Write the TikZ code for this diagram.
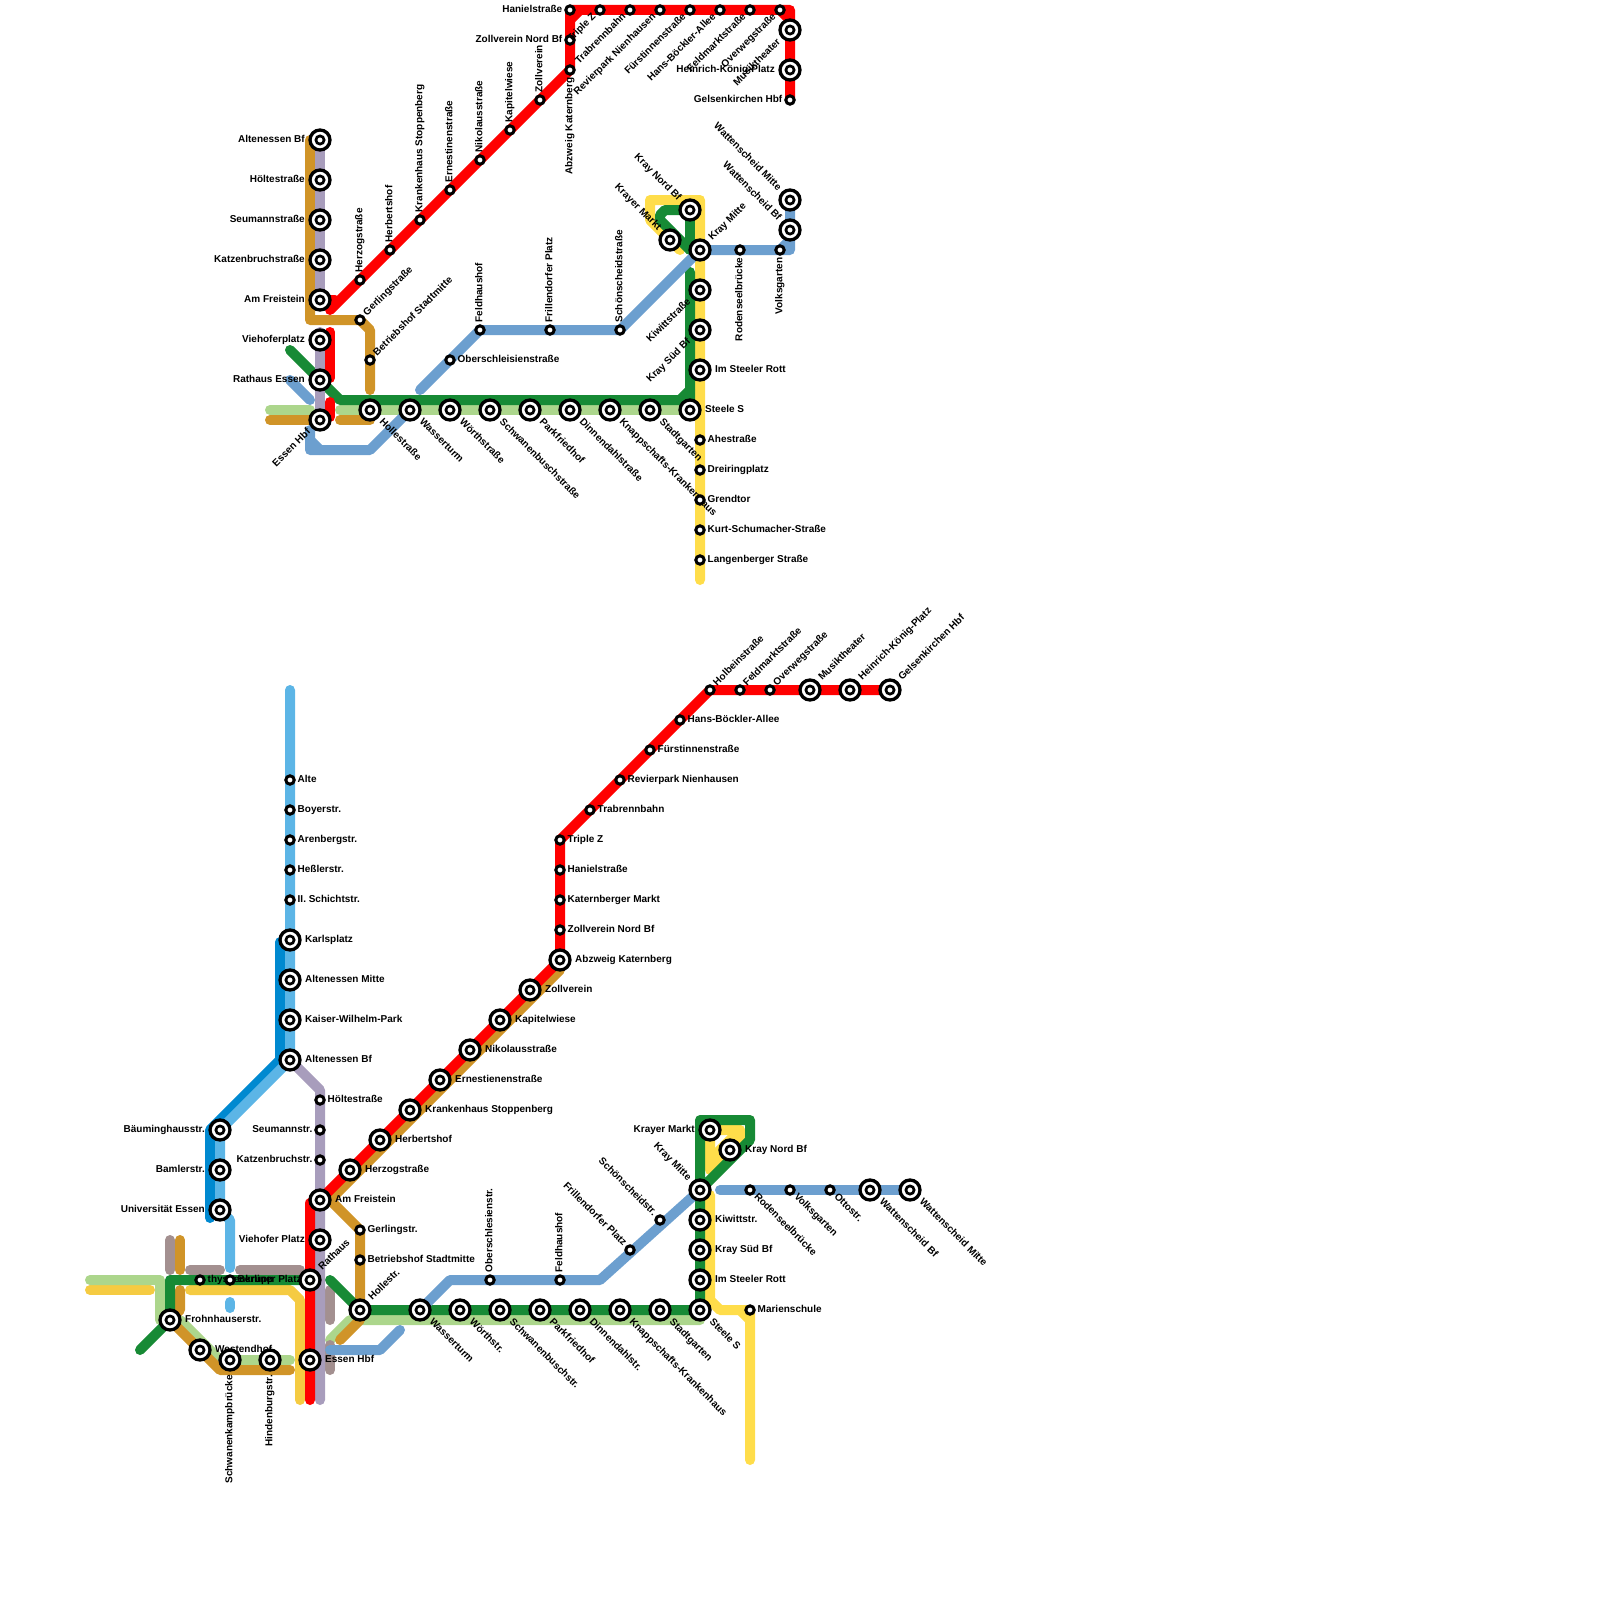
\documentclass[tikz,border=0pt]{standalone}
\usepackage{fontspec}
\setmainfont{Liberation Sans}
\usetikzlibrary{backgrounds}
\definecolor{linered}{HTML}{FF0000}
\definecolor{linegreen}{HTML}{178A35}
\definecolor{linelime}{HTML}{ACD68C}
\definecolor{lineochre}{HTML}{D09428}
\definecolor{linelilac}{HTML}{A89DBC}
\definecolor{lineblue}{HTML}{6C9FCF}
\definecolor{linesky}{HTML}{5CB5E6}
\definecolor{linenavy}{HTML}{0089D0}
\definecolor{linetaupe}{HTML}{A39090}
\definecolor{lineyellow}{HTML}{FFDD4A}
\definecolor{linegold}{HTML}{F5CB42}

\begin{document}
\begin{tikzpicture}[
  x=1pt, y=-1pt,
  bigst/.style={draw, circle, fill=white, inner sep=0pt, outer sep=0pt, minimum size=20, line width=3.3,
    path picture={\draw[line width=2.7] (path picture bounding box.center) circle (4.1);}},
  smallst/.style={draw, circle, fill=white, inner sep=0pt, outer sep=0pt, minimum size=8.4, line width=3},
  lab/.style={inner sep=0pt, text height=4.8, text depth=0, font=\fontsize{10}{12}\selectfont\bfseries},
  labr/.style={lab, anchor=west, xshift=#1}, labr/.default=7.5,
  labl/.style={lab, anchor=east, xshift=-#1}, labl/.default=7.5,
  labn/.style={lab, rotate=90, anchor=west, xshift=#1}, labn/.default=7.5,
  labs/.style={lab, rotate=90, anchor=east, xshift=-#1}, labs/.default=7.5,
  labne/.style={lab, rotate=45, anchor=west, xshift=#1}, labne/.default=7.5,
  labse/.style={lab, rotate=-45, anchor=west, xshift=#1}, labse/.default=7.5,
  labsw/.style={lab, rotate=45, anchor=east, xshift=-#1}, labsw/.default=7.5,
  labnw/.style={lab, rotate=-45, anchor=east, xshift=-#1}, labnw/.default=7.5,
  metro/.style={line width=10, line cap=round, line join=round}]
  \useasboundingbox (0,0) rectangle (1600,1600);

  \node[bigst] (taltbf) at (320,140) {};   \node[labl=15] (taltbf-l) at (taltbf) {Altenessen Bf};
  \node[bigst] (thoelte) at (320,180) {};  \node[labl=15] (thoelte-l) at (thoelte) {Höltestraße};
  \node[bigst] (tseum) at (320,220) {};    \node[labl=15] (tseum-l) at (tseum) {Seumannstraße};
  \node[bigst] (tkatz) at (320,260) {};    \node[labl=15] (tkatz-l) at (tkatz) {Katzenbruchstraße};
  \node[bigst] (tfrei) at (320,300) {};    \node[labl=15] (tfrei-l) at (tfrei) {Am Freistein};
  \node[bigst] (tvieh) at (320,340) {};    \node[labl=15] (tvieh-l) at (tvieh) {Viehoferplatz};
  \node[bigst] (trat) at (320,380) {};     \node[labl=15] (trat-l) at (trat) {Rathaus Essen};
  \node[bigst] (thbf) at (320,420) {};     \node[labsw=15] (thbf-l) at (thbf) {Essen Hbf};
  \node[bigst] (tholle) at (370,410) {};   \node[labse=15] (tholle-l) at (tholle) {Hollestraße};
  \node[bigst] (twasser) at (410,410) {};  \node[labse=15] (twasser-l) at (twasser) {Wasserturm};
  \node[bigst] (twoerth) at (450,410) {};  \node[labse=15] (twoerth-l) at (twoerth) {Wörthstraße};
  \node[bigst] (tschwan) at (490,410) {};  \node[labse=15] (tschwan-l) at (tschwan) {Schwanenbuschstraße};
  \node[bigst] (tpark) at (530,410) {};    \node[labse=15] (tpark-l) at (tpark) {Parkfriedhof};
  \node[bigst] (tdinn) at (570,410) {};    \node[labse=15] (tdinn-l) at (tdinn) {Dinnendahlstraße};
  \node[bigst] (tknapp) at (610,410) {};   \node[labse=15] (tknapp-l) at (tknapp) {Knappschafts-Krankenhaus};
  \node[bigst] (tstadt) at (650,410) {};   \node[labse=15] (tstadt-l) at (tstadt) {Stadtgarten};
  \node[bigst] (tsteele) at (690,410) {};  \node[labr=15] (tsteele-l) at (tsteele) {Steele S};
  \node[bigst] (tmitte) at (700,250) {};   \node[labne=15] (tmitte-l) at (tmitte) {Kray Mitte};
  \node[bigst] (tkiwi) at (700,290) {};    \node[labsw=15] (tkiwi-l) at (tkiwi) {Kiwittstraße};
  \node[bigst] (tsued) at (700,330) {};    \node[labsw=15] (tsued-l) at (tsued) {Kray Süd Bf};
  \node[bigst] (trott) at (700,370) {};    \node[labr=15] (trott-l) at (trott) {Im Steeler Rott};
  \node[bigst] (tnord) at (690,210) {};    \node[labnw=15] (tnord-l) at (tnord) {Kray Nord Bf};
  \node[bigst] (tmarkt) at (670,240) {};   \node[labnw=15] (tmarkt-l) at (tmarkt) {Krayer Markt};
  \node[bigst] (twmitte) at (790,200) {};  \node[labnw=15] (twmitte-l) at (twmitte) {Wattenscheid Mitte};
  \node[bigst] (twbf) at (790,230) {};     \node[labnw=15] (twbf-l) at (twbf) {Wattenscheid Bf};
  \node[bigst] (tmusik) at (790,30) {};    \node[labsw=15] (tmusik-l) at (tmusik) {Musiktheater};
  \node[bigst] (theinr) at (790,70) {};    \node[labl=15] (theinr-l) at (theinr) {Heinrich-König-Platz};

  \node[smallst] (tgelsen) at (790,100) {}; \node[labl] (tgelsen-l) at (tgelsen) {Gelsenkirchen Hbf};
  \node[smallst] (therz) at (360,280) {};   \node[labn] (therz-l) at (therz) {Herzogstraße};
  \node[smallst] (therb) at (390,250) {};   \node[labn] (therb-l) at (therb) {Herbertshof};
  \node[smallst] (tkrank) at (420,220) {};  \node[labn] (tkrank-l) at (tkrank) {Krankenhaus Stoppenberg};
  \node[smallst] (terne) at (450,190) {};   \node[labn] (terne-l) at (terne) {Ernestinenstraße};
  \node[smallst] (tniko) at (480,160) {};   \node[labn] (tniko-l) at (tniko) {Nikolausstraße};
  \node[smallst] (tkapi) at (510,130) {};   \node[labn] (tkapi-l) at (tkapi) {Kapitelwiese};
  \node[smallst] (tzoll) at (540,100) {};   \node[labn] (tzoll-l) at (tzoll) {Zollverein};
  \node[smallst] (tabzw) at (570,70) {};    \node[labs] (tabzw-l) at (tabzw) {Abzweig Katernberg};
  \node[smallst] (tznord) at (570,40) {};   \node[labl] (tznord-l) at (tznord) {Zollverein Nord Bf};
  \node[smallst] (thani) at (570,10) {};    \node[labl] (thani-l) at (thani) {Hanielstraße};
  \node[smallst] (ttrip) at (600,10) {};    \node[labsw] (ttrip-l) at (ttrip) {Triple Z};
  \node[smallst] (ttrab) at (630,10) {};    \node[labsw] (ttrab-l) at (ttrab) {Trabrennbahn};
  \node[smallst] (trevi) at (660,10) {};    \node[labsw] (trevi-l) at (trevi) {Revierpark Nienhausen};
  \node[smallst] (tfuer) at (690,10) {};    \node[labsw] (tfuer-l) at (tfuer) {Fürstinnenstraße};
  \node[smallst] (thans) at (720,10) {};    \node[labsw] (thans-l) at (thans) {Hans-Böckler-Allee};
  \node[smallst] (tfeld) at (750,10) {};    \node[labsw] (tfeld-l) at (tfeld) {Feldmarktstraße};
  \node[smallst] (tover) at (780,10) {};    \node[labsw] (tover-l) at (tover) {Overwegstraße};
  \node[smallst] (tgerl) at (360,320) {};   \node[labne] (tgerl-l) at (tgerl) {Gerlingstraße};
  \node[smallst] (tbetr) at (370,360) {};   \node[labne] (tbetr-l) at (tbetr) {Betriebshof Stadtmitte};
  \node[smallst] (tober) at (450,360) {};   \node[labr] (tober-l) at (tober) {Oberschleisienstraße};
  \node[smallst] (tfhof) at (480,330) {};   \node[labn] (tfhof-l) at (tfhof) {Feldhaushof};
  \node[smallst] (tfril) at (550,330) {};   \node[labn] (tfril-l) at (tfril) {Frillendorfer Platz};
  \node[smallst] (tscho) at (620,330) {};   \node[labn] (tscho-l) at (tscho) {Schönscheidstraße};
  \node[smallst] (trode) at (740,250) {};   \node[labs] (trode-l) at (trode) {Rodenseelbrücke};
  \node[smallst] (tvolk) at (780,250) {};   \node[labs] (tvolk-l) at (tvolk) {Volksgarten};
  \node[smallst] (tahe) at (700,440) {};    \node[labr] (tahe-l) at (tahe) {Ahestraße};
  \node[smallst] (tdrei) at (700,470) {};   \node[labr] (tdrei-l) at (tdrei) {Dreiringplatz};
  \node[smallst] (tgren) at (700,500) {};   \node[labr] (tgren-l) at (tgren) {Grendtor};
  \node[smallst] (tkurt) at (700,530) {};   \node[labr] (tkurt-l) at (tkurt) {Kurt-Schumacher-Straße};
  \node[smallst] (tlang) at (700,560) {};   \node[labr] (tlang-l) at (tlang) {Langenberger Straße};

  \node[smallst] (bholb) at (710,690) {};   \node[labne] (bholb-l) at (bholb) {Holbeinstraße};
  \node[smallst] (bfeld) at (740,690) {};   \node[labne] (bfeld-l) at (bfeld) {Feldmarktstraße};
  \node[smallst] (bover) at (770,690) {};   \node[labne] (bover-l) at (bover) {Overwegstraße};
  \node[bigst] (bmusik) at (810,690) {};    \node[labne=15] (bmusik-l) at (bmusik) {Musiktheater};
  \node[bigst] (bheinr) at (850,690) {};    \node[labne=15] (bheinr-l) at (bheinr) {Heinrich-König-Platz};
  \node[bigst] (bgelsen) at (890,690) {};   \node[labne=15] (bgelsen-l) at (bgelsen) {Gelsenkirchen Hbf};
  \node[smallst] (bhans) at (680,720) {};   \node[labr] (bhans-l) at (bhans) {Hans-Böckler-Allee};
  \node[smallst] (bfuer) at (650,750) {};   \node[labr] (bfuer-l) at (bfuer) {Fürstinnenstraße};
  \node[smallst] (brevi) at (620,780) {};   \node[labr] (brevi-l) at (brevi) {Revierpark Nienhausen};
  \node[smallst] (btrab) at (590,810) {};   \node[labr] (btrab-l) at (btrab) {Trabrennbahn};
  \node[smallst] (btrip) at (560,840) {};   \node[labr] (btrip-l) at (btrip) {Triple Z};
  \node[smallst] (bhani) at (560,870) {};   \node[labr] (bhani-l) at (bhani) {Hanielstraße};
  \node[smallst] (bkate) at (560,900) {};   \node[labr] (bkate-l) at (bkate) {Katernberger Markt};
  \node[smallst] (bznord) at (560,930) {};  \node[labr] (bznord-l) at (bznord) {Zollverein Nord Bf};
  \node[bigst] (babzw) at (560,960) {};     \node[labr=15] (babzw-l) at (babzw) {Abzweig Katernberg};
  \node[bigst] (bzoll) at (530,990) {};     \node[labr=15] (bzoll-l) at (bzoll) {Zollverein};
  \node[bigst] (bkapi) at (500,1020) {};    \node[labr=15] (bkapi-l) at (bkapi) {Kapitelwiese};
  \node[bigst] (bniko) at (470,1050) {};    \node[labr=15] (bniko-l) at (bniko) {Nikolausstraße};
  \node[bigst] (berne) at (440,1080) {};    \node[labr=15] (berne-l) at (berne) {Ernestienenstraße};
  \node[bigst] (bkrank) at (410,1110) {};   \node[labr=15] (bkrank-l) at (bkrank) {Krankenhaus Stoppenberg};
  \node[bigst] (bherb) at (380,1140) {};    \node[labr=15] (bherb-l) at (bherb) {Herbertshof};
  \node[bigst] (bherz) at (350,1170) {};    \node[labr=15] (bherz-l) at (bherz) {Herzogstraße};
  \node[bigst] (bfrei) at (320,1200) {};    \node[labr=15] (bfrei-l) at (bfrei) {Am Freistein};

  \node[smallst] (balte) at (290,780) {};   \node[labr] (balte-l) at (balte) {Alte};
  \node[smallst] (bboye) at (290,810) {};   \node[labr] (bboye-l) at (bboye) {Boyerstr.};
  \node[smallst] (baren) at (290,840) {};   \node[labr] (baren-l) at (baren) {Arenbergstr.};
  \node[smallst] (bhess) at (290,870) {};   \node[labr] (bhess-l) at (bhess) {Heßlerstr.};
  \node[smallst] (bschi) at (290,900) {};   \node[labr] (bschi-l) at (bschi) {II. Schichtstr.};
  \node[bigst] (bkarl) at (290,940) {};     \node[labr=15] (bkarl-l) at (bkarl) {Karlsplatz};
  \node[bigst] (bamit) at (290,980) {};     \node[labr=15] (bamit-l) at (bamit) {Altenessen Mitte};
  \node[bigst] (bkais) at (290,1020) {};    \node[labr=15] (bkais-l) at (bkais) {Kaiser-Wilhelm-Park};
  \node[bigst] (baltbf) at (290,1060) {};   \node[labr=15] (baltbf-l) at (baltbf) {Altenessen Bf};
  \node[smallst] (bhoel) at (320,1100) {};  \node[labr] (bhoel-l) at (bhoel) {Höltestraße};
  \node[smallst] (bseum) at (320,1130) {};  \node[labl] (bseum-l) at (bseum) {Seumannstr.};
  \node[smallst] (bkatz) at (320,1160) {};  \node[labl] (bkatz-l) at (bkatz) {Katzenbruchstr.};
  \node[bigst] (bvieh) at (320,1240) {};    \node[labl=15] (bvieh-l) at (bvieh) {Viehofer Platz};
  \node[bigst] (brat) at (310,1280) {};     \node[labne=15] (brat-l) at (brat) {Rathaus};
  \node[bigst] (bhbf) at (310,1360) {};     \node[labr=15] (bhbf-l) at (bhbf) {Essen Hbf};
  \node[bigst] (bbaum) at (220,1130) {};    \node[labl=15] (bbaum-l) at (bbaum) {Bäuminghausstr.};
  \node[bigst] (bbaml) at (220,1170) {};    \node[labl=15] (bbaml-l) at (bbaml) {Bamlerstr.};
  \node[bigst] (buni) at (220,1210) {};     \node[labl=15] (buni-l) at (buni) {Universität Essen};
  \node[smallst] (bthys) at (200,1280) {};  \node[labr] (bthys-l) at (bthys) {thyssenkrupp};
  \node[smallst] (bberl) at (230,1280) {};  \node[labr] (bberl-l) at (bberl) {Berliner Platz};
  \node[bigst] (bfroh) at (170,1320) {};    \node[labr=15] (bfroh-l) at (bfroh) {Frohnhauserstr.};
  \node[bigst] (bwest) at (200,1350) {};    \node[labr=15] (bwest-l) at (bwest) {Westendhof};
  \node[bigst] (bschk) at (230,1360) {};    \node[labs=15] (bschk-l) at (bschk) {Schwanenkampbrücke};
  \node[bigst] (bhind) at (270,1360) {};    \node[labs=15] (bhind-l) at (bhind) {Hindenburgstr.};

  \node[smallst] (bgerl) at (360,1230) {};  \node[labr] (bgerl-l) at (bgerl) {Gerlingstr.};
  \node[smallst] (bbetr) at (360,1260) {};  \node[labr] (bbetr-l) at (bbetr) {Betriebshof Stadtmitte};
  \node[bigst] (bholl) at (360,1310) {};    \node[labne=15] (bholl-l) at (bholl) {Hollestr.};
  \node[bigst] (bwass) at (420,1310) {};    \node[labse=15] (bwass-l) at (bwass) {Wasserturm};
  \node[bigst] (bwoer) at (460,1310) {};    \node[labse=15] (bwoer-l) at (bwoer) {Wörthstr.};
  \node[bigst] (bschw) at (500,1310) {};    \node[labse=15] (bschw-l) at (bschw) {Schwanenbuschstr.};
  \node[bigst] (bpark) at (540,1310) {};    \node[labse=15] (bpark-l) at (bpark) {Parkfriedhof};
  \node[bigst] (bdinn) at (580,1310) {};    \node[labse=15] (bdinn-l) at (bdinn) {Dinnendahlstr.};
  \node[bigst] (bknap) at (620,1310) {};    \node[labse=15] (bknap-l) at (bknap) {Knappschafts-Krankenhaus};
  \node[bigst] (bstad) at (660,1310) {};    \node[labse=15] (bstad-l) at (bstad) {Stadtgarten};
  \node[bigst] (bstee) at (700,1310) {};    \node[labse=15] (bstee-l) at (bstee) {Steele S};
  \node[smallst] (bober) at (490,1280) {};  \node[labn] (bober-l) at (bober) {Oberschlesienstr.};
  \node[smallst] (bfhof) at (560,1280) {};  \node[labn] (bfhof-l) at (bfhof) {Feldhaushof};
  \node[smallst] (bfril) at (630,1250) {};  \node[labnw] (bfril-l) at (bfril) {Frillendorfer Platz};
  \node[smallst] (bscho) at (660,1220) {};  \node[labnw] (bscho-l) at (bscho) {Schönscheidstr.};
  \node[bigst] (bmitt) at (700,1190) {};    \node[labnw=15] (bmitt-l) at (bmitt) {Kray Mitte};
  \node[bigst] (bkiwi) at (700,1220) {};    \node[labr=15] (bkiwi-l) at (bkiwi) {Kiwittstr.};
  \node[bigst] (bsued) at (700,1250) {};    \node[labr=15] (bsued-l) at (bsued) {Kray Süd Bf};
  \node[bigst] (brott) at (700,1280) {};    \node[labr=15] (brott-l) at (brott) {Im Steeler Rott};
  \node[bigst] (bmark) at (710,1130) {};    \node[labl=15] (bmark-l) at (bmark) {Krayer Markt};
  \node[bigst] (bnord) at (730,1150) {};    \node[labr=15] (bnord-l) at (bnord) {Kray Nord Bf};
  \node[smallst] (bmari) at (750,1310) {};  \node[labr] (bmari-l) at (bmari) {Marienschule};
  \node[smallst] (brode) at (750,1190) {};  \node[labse] (brode-l) at (brode) {Rodenseelbrücke};
  \node[smallst] (bvolk) at (790,1190) {};  \node[labse] (bvolk-l) at (bvolk) {Volksgarten};
  \node[smallst] (botto) at (830,1190) {};  \node[labse] (botto-l) at (botto) {Ottostr.};
  \node[bigst] (bwbf) at (870,1190) {};     \node[labse=15] (bwbf-l) at (bwbf) {Wattenscheid Bf};
  \node[bigst] (bwmit) at (910,1190) {};    \node[labse=15] (bwmit-l) at (bwmit) {Wattenscheid Mitte};

  \coordinate (tr0) at (330,310);  \coordinate (tr1) at (790,10);   \coordinate (tr2) at (570,20);
  \coordinate (tr3) at (580,10);   \coordinate (tr4) at (790,20);   \coordinate (tr5) at (330,332);
  \coordinate (tr6) at (330,378);  \coordinate (tr7) at (330,402);  \coordinate (tr8) at (330,417);
  \coordinate (tr9) at (335,300);
  \coordinate (to0) at (310,140);  \coordinate (to1) at (310,320);  \coordinate (to2) at (370,330);
  \coordinate (to3) at (370,390);  \coordinate (to4) at (270,420);  \coordinate (to5) at (310,420);
  \coordinate (to6) at (340,420);  \coordinate (to7) at (370,420);
  \coordinate (tl0) at (270,410);  \coordinate (tl1) at (310,410);  \coordinate (tl2) at (340,410);
  \coordinate (tp0) at (320,305);  \coordinate (tp1) at (320,332);
  \coordinate (tg0) at (290,350);  \coordinate (tg1) at (340,400);  \coordinate (tg2) at (690,400);
  \coordinate (tg3) at (680,400);  \coordinate (tg9) at (690,390);  \coordinate (tg4) at (690,272);
  \coordinate (tg5) at (665,210);  \coordinate (tg6) at (660,215);  \coordinate (tg7) at (660,220);
  \coordinate (tg8) at (690,250);
  \coordinate (ty0) at (700,580);  \coordinate (ty1) at (700,200);  \coordinate (ty2) at (650,200);
  \coordinate (ty3) at (650,220);  \coordinate (ty4) at (680,250);
  \coordinate (tb0) at (290,380);  \coordinate (tb1) at (310,400);  \coordinate (tb2) at (310,430);
  \coordinate (tb3) at (310,450);  \coordinate (tb4) at (370,450);  \coordinate (tb5) at (310,440);
  \coordinate (tb6) at (320,450);  \coordinate (tb7) at (420,390);  \coordinate (tb8) at (790,250);
  \coordinate (tb9) at (790,240);

  \coordinate (br0) at (310,1400); \coordinate (br1) at (310,1203);
  \coordinate (bo0) at (560,970);  \coordinate (bo1) at (330,1200); \coordinate (bo2) at (360,1320);
  \coordinate (bo3) at (340,1340); \coordinate (bo4) at (180,1240); \coordinate (bo5) at (180,1270);
  \coordinate (bo6) at (180,1290); \coordinate (bo7) at (180,1310); \coordinate (bo8) at (220,1370);
  \coordinate (bo9) at (290,1370);
  \coordinate (bl0) at (90,1280);  \coordinate (bl1) at (160,1280); \coordinate (bl2) at (160,1320);
  \coordinate (bl3) at (180,1320); \coordinate (bl4) at (220,1360); \coordinate (bl5) at (290,1360);
  \coordinate (bl6) at (330,1340); \coordinate (bl7) at (350,1320); \coordinate (bl8) at (700,1320);
  \coordinate (bp0) at (320,1090); \coordinate (bp1) at (320,1400);
  \coordinate (bg0) at (140,1350); \coordinate (bg1) at (170,1280); \coordinate (bg2) at (330,1280);
  \coordinate (bg3) at (700,1120); \coordinate (bg4) at (750,1120); \coordinate (bg5) at (750,1140);
  \coordinate (by0) at (750,1460); \coordinate (by1) at (720,1310); \coordinate (by2) at (710,1300);
  \coordinate (by3) at (710,1195); \coordinate (by4) at (710,1170); \coordinate (by5) at (740,1130);
  \coordinate (by6) at (740,1140); \coordinate (by7) at (740,1310); \coordinate (by8) at (750,1320);
  \coordinate (by9) at (710,1160);
  \coordinate (bd0) at (90,1290);  \coordinate (bd1) at (150,1290); \coordinate (bd2) at (190,1290);
  \coordinate (bd3) at (290,1290); \coordinate (bd4) at (300,1300); \coordinate (bd5) at (300,1400);
  \coordinate (bk0) at (290,690);  \coordinate (bk1) at (230,1220); \coordinate (bk2) at (230,1268);
  \coordinate (bk3) at (230,1302); \coordinate (bk4) at (230,1308);
  \coordinate (bn0) at (280,942);  \coordinate (bn1) at (280,1060); \coordinate (bn2) at (210,1130);
  \coordinate (bn3) at (210,1218);
  \coordinate (bt0) at (170,1240); \coordinate (bt1) at (170,1270); \coordinate (bt2) at (190,1270);
  \coordinate (bt3) at (220,1270); \coordinate (bt4) at (240,1270); \coordinate (bt5) at (300,1270);
  \coordinate (bt6) at (330,1290); \coordinate (bt7) at (330,1320); \coordinate (bt8) at (330,1345);
  \coordinate (bt9) at (330,1370);
  \coordinate (bb0) at (600,1280); \coordinate (bb1) at (450,1280); \coordinate (bb2) at (330,1350);
  \coordinate (bb3) at (380,1350); \coordinate (bb4) at (400,1330); \coordinate (bb5) at (720,1190);

  \begin{scope}[on background layer]
    \draw[metro, lineyellow] (ty0) -- (ty1) -- (ty2) -- (ty3) -- (ty4);
    \draw[metro, linelime] (tl0) -- (tl1);
    \draw[metro, linelime] (tl2) -- (tsteele.center);
    \draw[metro, lineochre] (to0) -- (to1) -- (tgerl.center) -- (to2) -- (to3);
    \draw[metro, lineochre] (to4) -- (to5);
    \draw[metro, lineochre] (to6) -- (to7);
    \draw[metro, linegreen] (tg0) -- (tg1) -- (tg2) -- (tg4);
    \draw[metro, linegreen] (tg3) -- (tg9);
    \draw[metro, linegreen] (tnord.center) -- (tg5) -- (tg6) -- (tg7) -- (tg8);
    \draw[metro, linegreen] (tnord.center) -- (tg8);
    \draw[metro, linelilac] (taltbf.center) -- (tp0);
    \draw[metro, linelilac] (tp1) -- (thbf.center);
    \draw[metro, linered] (tr0) -- (tabzw.center) -- (thani.center) -- (tr1) -- (tgelsen.center);
    \draw[metro, linered] (tr2) -- (tr3);
    \draw[metro, linered] (tover.center) -- (tr4);
    \draw[metro, linered] (tfrei.center) -- (tr9);
    \draw[metro, linered] (tr5) -- (tr6);
    \draw[metro, linered] (tr7) -- (tr8);
    \draw[metro, lineblue] (tb0) -- (tb1);
    \draw[metro, lineblue] (tb2) -- (tb3) -- (tb4) -- (twasser.center);
    \draw[metro, lineblue] (tb5) -- (tb6);
    \draw[metro, lineblue] (tb7) -- (tfhof.center) -- (tscho.center) -- (tmitte.center) -- (tb8) -- (twmitte.center);
    \draw[metro, lineblue] (tvolk.center) -- (tb9);

    \draw[metro, linegold] (bd0) -- (bd1);
    \draw[metro, linegold] (bd2) -- (bd3) -- (bd4) -- (bd5);
    \draw[metro, lineyellow] (by0) -- (bmari.center) -- (by1) -- (by2) -- (by3);
    \draw[metro, lineyellow] (by7) -- (by8);
    \draw[metro, lineyellow] (by4) -- (bmark.center) -- (by5) -- (by6) -- (by4);
    \draw[metro, lineyellow] (by9) -- (by5);
    \draw[metro, linelime] (bl0) -- (bl1) -- (bl2) -- (bl3) -- (bl4) -- (bl5);
    \draw[metro, linelime] (bl6) -- (bl7) -- (bl8);
    \draw[metro, lineochre] (bo0) -- (bo1) -- (bgerl.center) -- (bholl.center) -- (bo2) -- (bo3);
    \draw[metro, lineochre] (bo4) -- (bo5);
    \draw[metro, lineochre] (bo6) -- (bo7) -- (bfroh.center) -- (bo8) -- (bo9);
    \draw[metro, linetaupe] (bt0) -- (bt1);
    \draw[metro, linetaupe] (bt2) -- (bt3);
    \draw[metro, linetaupe] (bt4) -- (bt5);
    \draw[metro, linetaupe] (bt6) -- (bt7);
    \draw[metro, linetaupe] (bt8) -- (bt9);
    \draw[metro, linegreen] (bg0) -- (bfroh.center) -- (bg1) -- (brat.center);
    \draw[metro, linegreen] (bg2) -- (bholl.center) -- (bstee.center) -- (bmitt.center) -- (bg3) -- (bg4) -- (bg5) -- (bmitt.center);
    \draw[metro, linenavy] (bn0) -- (bn1) -- (bn2) -- (bn3);
    \draw[metro, linesky] (bk0) -- (baltbf.center) -- (bbaum.center) -- (buni.center) -- (bk1) -- (bk2);
    \draw[metro, linesky] (bk3) -- (bk4);
    \draw[metro, linelilac] (baltbf.center) -- (bp0) -- (bp1);
    \draw[metro, linered] (br0) -- (br1) -- (bfrei.center) -- (babzw.center) -- (btrip.center) -- (bholb.center) -- (bgelsen.center);
    \draw[metro, lineblue] (bmitt.center) -- (bb0) -- (bb1) -- (bwass.center);
    \draw[metro, lineblue] (bb2) -- (bb3) -- (bb4);
    \draw[metro, lineblue] (bb5) -- (bwmit.center);
  \end{scope}
\end{tikzpicture}
\end{document}
